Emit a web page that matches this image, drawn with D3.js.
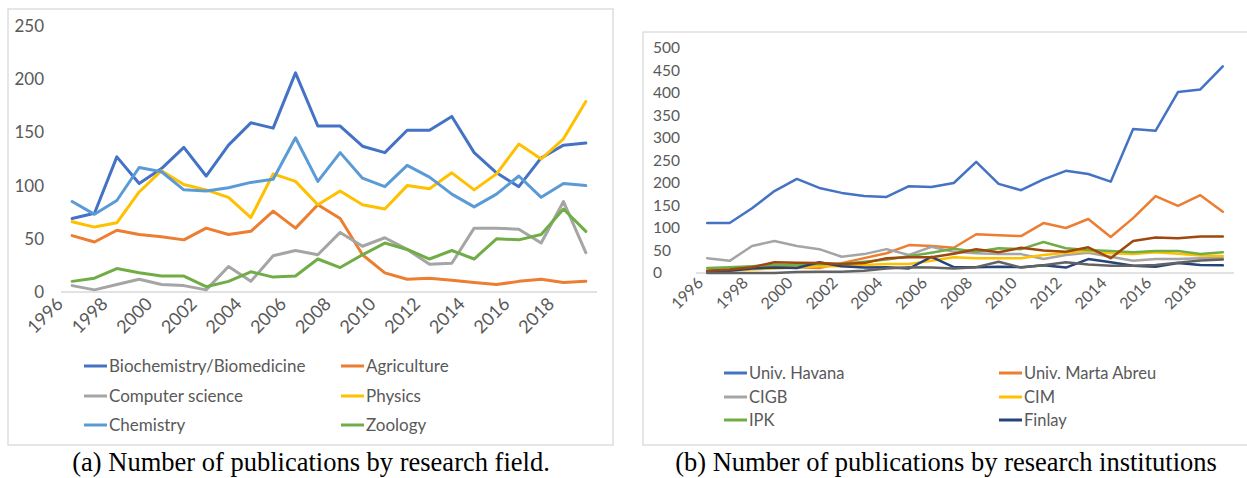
<html>
<head>
<meta charset="utf-8">
<script src="https://d3js.org/d3.v7.min.js"></script>
<style>
  body { margin: 0; background: #fff; }
  text { font-family: Lato, "Open Sans", sans-serif; fill: #595959; }
  .cap { font-family: "Liberation Serif", "DejaVu Serif", serif; fill: #000; font-size: 26.5px; }
</style>
</head>
<body>
<svg width="1247" height="478"></svg>
<script>
var years = d3.range(1996, 2020);
var yearLabels = years.filter(function(y) { return y % 2 == 0; });

// (a) research fields
var fieldNames = ["Biochemistry/Biomedicine", "Agriculture", "Computer science", "Physics", "Chemistry", "Zoology"];
var fieldColors = ["#4472C4", "#ED7D31", "#A5A5A5", "#FFC000", "#5B9BD5", "#70AD47"];
var biochem   = [69, 74, 127, 102, 116, 136, 109, 138, 159, 154, 206, 156, 156, 137, 131, 152, 152, 165, 131, 112, 99, 126, 138, 140];
var agric     = [53, 47, 58, 54, 52, 49, 60, 54, 57, 76, 60, 82, 69, 35, 18, 12, 13, 11, 9, 7, 10, 12, 9, 10];
var compsci   = [6, 2, 7, 12, 7, 6, 2, 24, 10, 34, 39, 35, 56, 43, 51, 40, 26, 27, 60, 60, 59, 46, 85, 37];
var physics   = [66, 61, 65, 94, 114, 101, 96, 89, 70, 111, 104, 82, 95, 82, 78, 100, 97, 112, 96, 111, 139, 125, 144, 179];
var chemistry = [85, 73, 86, 117, 113, 96, 95, 98, 103, 106, 145, 104, 131, 107, 99, 119, 108, 92, 80, 92, 109, 89, 102, 100];
var zoology   = [10, 13, 22, 18, 15, 15, 5, 10, 19, 14, 15, 31, 23, 35, 46, 40, 31, 39, 31, 50, 49, 54, 78, 57];
var fieldSeries = [biochem, agric, compsci, physics, chemistry, zoology];
var fieldTicks = [0, 50, 100, 150, 200, 250];

// (b) research institutions (last two series have no legend entry in the picture)
var instNames = ["Univ. Havana", "Univ. Marta Abreu", "CIGB", "CIM", "IPK", "Finlay", "", ""];
var instColors = ["#4472C4", "#ED7D31", "#A5A5A5", "#FFC000", "#70AD47", "#264478", "#9E480E", "#636363"];
var havana  = [111, 111, 144, 182, 209, 189, 178, 171, 169, 193, 191, 200, 247, 198, 184, 208, 227, 220, 203, 320, 316, 402, 408, 459];
var marta   = [5, 7, 12, 16, 13, 11, 22, 33, 44, 62, 60, 56, 86, 84, 82, 111, 100, 120, 80, 122, 171, 149, 173, 136];
var cigb    = [33, 27, 60, 71, 60, 53, 36, 42, 53, 40, 58, 47, 44, 42, 42, 31, 40, 45, 36, 27, 31, 31, 33, 33];
var cim     = [3, 5, 8, 10, 12, 15, 15, 18, 20, 20, 27, 35, 33, 33, 33, 40, 45, 49, 44, 42, 46, 43, 39, 38];
var ipk     = [11, 13, 15, 18, 18, 20, 20, 25, 30, 37, 45, 54, 47, 55, 53, 69, 55, 51, 49, 46, 49, 49, 42, 46];
var finlay  = [3, 5, 10, 12, 11, 24, 15, 12, 13, 10, 36, 13, 13, 14, 13, 17, 12, 31, 24, 16, 14, 22, 18, 17];
var brownS  = [5, 8, 13, 24, 23, 22, 20, 22, 33, 35, 35, 43, 53, 46, 56, 50, 47, 57, 33, 71, 79, 77, 81, 81];
var dgray   = [0, 0, 0, 0, 2, 3, 3, 5, 10, 13, 12, 10, 13, 25, 12, 17, 24, 19, 16, 16, 18, 23, 28, 30];
var instSeries = [havana, marta, cigb, cim, ipk, finlay, brownS, dgray];
var instTicks = d3.range(0, 501, 50);

var svg = d3.select("svg");

function panel(cfg) {
  var g = svg.append("g");
  g.append("rect").attr("x", cfg.frame[0]).attr("y", cfg.frame[1])
    .attr("width", cfg.frame[2]).attr("height", cfg.frame[3])
    .attr("fill", "none").attr("stroke", "#d9d9d9").attr("stroke-width", 1.3);

  var x = d3.scaleBand().domain(years).range(cfg.xr);
  var y = d3.scaleLinear().domain([0, cfg.ymax]).range(cfg.yr);

  // y tick labels
  g.selectAll(".yt").data(cfg.ticks).enter().append("text")
    .attr("x", cfg.ylabX).attr("y", function(d) { return y(d); })
    .attr("dy", "0.35em").attr("text-anchor", cfg.ylabAnchor)
    .style("font-size", cfg.fs + "px").text(function(d) { return d; });

  // baseline
  g.append("line").attr("x1", cfg.xr[0]).attr("x2", cfg.xr[1])
    .attr("y1", y(0)).attr("y2", y(0)).attr("stroke", "#d9d9d9").attr("stroke-width", 1.3);

  // rotated year labels
  g.selectAll(".xt").data(yearLabels).enter().append("text")
    .attr("transform", function(d) {
      return "translate(" + (x(d) + x.bandwidth() / 2 + cfg.xlabDx) + "," + (y(0) + cfg.xlabDy) + ") rotate(-45)";
    })
    .attr("text-anchor", "end").style("font-size", cfg.xfs + "px").text(function(d) { return d; });

  var line = d3.line()
    .x(function(d, i) { return x(years[i]) + x.bandwidth() / 2; })
    .y(function(d) { return y(d); });

  cfg.series.forEach(function(s, k) {
    g.append("path").datum(s).attr("d", line).attr("fill", "none")
      .attr("stroke", cfg.colors[k]).attr("stroke-width", cfg.lw)
      .attr("stroke-linejoin", "round").attr("stroke-linecap", "round");
  });

  // legend (two columns)
  var leg = cfg.names.map(function(n, i) { return {name: n, color: cfg.colors[i], i: i}; })
    .filter(function(d) { return d.name != ""; });
  var lg = g.selectAll(".lg").data(leg).enter().append("g")
    .attr("transform", function(d) {
      return "translate(" + cfg.legX[d.i % 2] + "," + cfg.legY[Math.floor(d.i / 2)] + ")";
    });
  lg.append("line").attr("x1", 0).attr("x2", 23).attr("y1", 0).attr("y2", 0)
    .attr("stroke", function(d) { return d.color; }).attr("stroke-width", 3);
  lg.append("text").attr("x", 25).attr("dy", "0.35em").style("font-size", cfg.legFs + "px")
    .text(function(d) { return d.name; });

  svg.append("text").attr("class", "cap").attr("x", cfg.capX).attr("y", 471)
    .attr("text-anchor", "middle").text(cfg.caption);
}

panel({
  frame: [8, 9, 605, 436], xr: [61, 597], yr: [292, 26], ymax: 250, ticks: fieldTicks,
  ylabX: 44, ylabAnchor: "end", fs: 17, xfs: 18, xlabDx: -8, xlabDy: 13, lw: 3,
  series: fieldSeries, colors: fieldColors, names: fieldNames,
  legX: [84, 341], legY: [366, 396, 425], legFs: 17,
  capX: 311, caption: "(a) Number of publications by research field."
});

panel({
  frame: [643, 32, 620, 413], xr: [696, 1234], yr: [273, 48], ymax: 500, ticks: instTicks,
  ylabX: 653, ylabAnchor: "start", fs: 15.5, xfs: 16, xlabDx: -3, xlabDy: 11, lw: 2.5,
  series: instSeries, colors: instColors, names: instNames,
  legX: [724, 999], legY: [373, 397, 420], legFs: 16.5,
  capX: 946, caption: "(b) Number of publications by research institutions"
});
</script>
</body>
</html>
